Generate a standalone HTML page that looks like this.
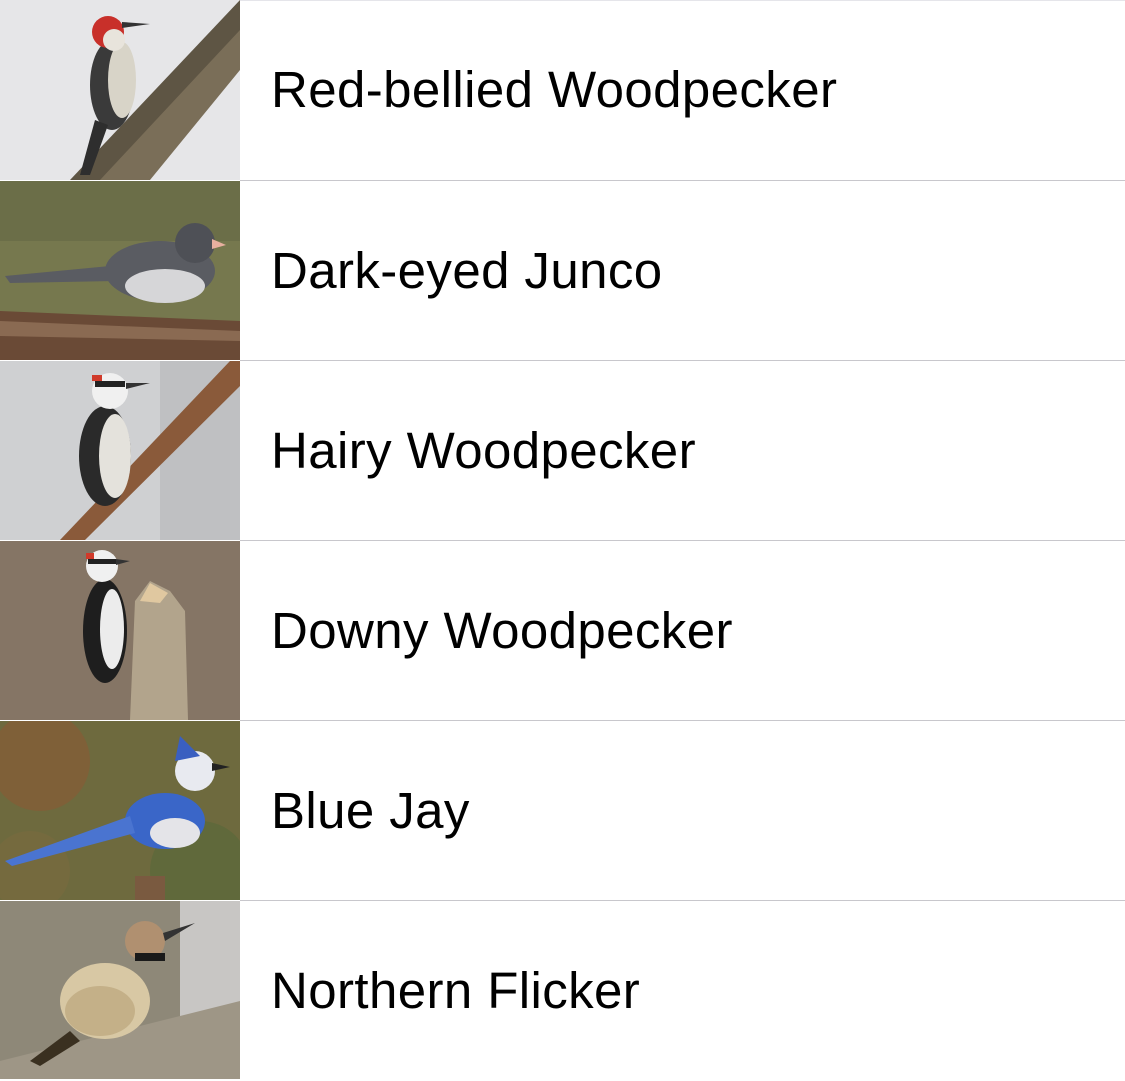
<!DOCTYPE html>
<html><head><meta charset="utf-8"><style>
html,body{margin:0;padding:0;background:#fff;width:1125px;height:1079px;overflow:hidden;font-family:"Liberation Sans",sans-serif}
.row{position:absolute;left:0;width:1125px;height:180px}
.row svg{position:absolute;left:0;top:0}
.row .t{position:absolute;left:271px;top:0;height:180px;line-height:180px;font-size:51px;color:#000;letter-spacing:0.4px}
.sep{position:absolute;left:240px;right:0;height:1px;background:#c8c7cc}
</style></head><body>
<div class="sep" style="top:0;background:#e5e5ea"></div>

<div class="row" style="top:0">
<svg width="240" height="180">
<rect width="240" height="180" fill="#e6e6e8"/>
<polygon points="70,180 240,0 240,40 120,180" fill="#5e5544"/>
<polygon points="100,180 240,30 240,70 150,180" fill="#7a6e58"/>
<ellipse cx="112" cy="85" rx="22" ry="45" fill="#3a3a3a"/>
<ellipse cx="122" cy="80" rx="14" ry="38" fill="#d8d4c8"/>
<circle cx="108" cy="32" r="16" fill="#c8302a"/>
<circle cx="114" cy="40" r="11" fill="#e8e4dc"/>
<polygon points="122,22 150,24 122,28" fill="#333"/>
<polygon points="95,120 80,175 90,175 108,125" fill="#2e2e2e"/>
</svg>
<div class="t">Red-bellied Woodpecker</div></div>
<div class="sep" style="top:180px"></div>

<div class="row" style="top:181px">
<svg width="240" height="179">
<rect width="240" height="179" fill="#76784e"/>
<rect y="0" width="240" height="60" fill="#6b6e48"/>
<polygon points="0,130 240,140 240,179 0,179" fill="#6a4a36"/>
<polygon points="0,140 240,150 240,160 0,155" fill="#8a6a52"/>
<ellipse cx="160" cy="90" rx="55" ry="30" fill="#5a5c62"/>
<ellipse cx="165" cy="105" rx="40" ry="17" fill="#d6d6d8"/>
<circle cx="195" cy="62" r="20" fill="#4e5056"/>
<polygon points="212,58 226,64 212,68" fill="#e8b0a0"/>
<polygon points="110,85 5,95 10,102 115,100" fill="#5a5c62"/>
</svg>
<div class="t">Dark-eyed Junco</div></div>
<div class="sep" style="top:360px"></div>

<div class="row" style="top:361px">
<svg width="240" height="179">
<rect width="240" height="179" fill="#cfd0d2"/>
<rect x="160" width="80" height="179" fill="#bfc0c2"/>
<polygon points="60,179 230,0 240,0 240,25 85,179" fill="#8a5a3a"/>
<ellipse cx="105" cy="95" rx="26" ry="50" fill="#2a2a2a"/>
<ellipse cx="115" cy="95" rx="16" ry="42" fill="#e4e2dc"/>
<circle cx="110" cy="30" r="18" fill="#f0f0f0"/>
<rect x="95" y="20" width="30" height="6" fill="#222"/>
<rect x="92" y="14" width="10" height="6" fill="#d03a2a"/>
<polygon points="126,22 150,22 126,28" fill="#333"/>
</svg>
<div class="t">Hairy Woodpecker</div></div>
<div class="sep" style="top:540px"></div>

<div class="row" style="top:541px">
<svg width="240" height="179">
<rect width="240" height="179" fill="#857565"/>
<polygon points="130,179 135,60 150,40 170,50 185,70 188,179" fill="#b2a48c"/>
<polygon points="140,60 150,42 168,52 160,62" fill="#e0c8a0"/>
<ellipse cx="105" cy="90" rx="22" ry="52" fill="#1e1e1e"/>
<ellipse cx="112" cy="88" rx="12" ry="40" fill="#ececec"/>
<circle cx="102" cy="25" r="16" fill="#f0f0f0"/>
<rect x="88" y="18" width="28" height="5" fill="#222"/>
<rect x="86" y="12" width="8" height="6" fill="#d03a2a"/>
<polygon points="116,18 130,20 116,24" fill="#333"/>
</svg>
<div class="t">Downy Woodpecker</div></div>
<div class="sep" style="top:720px"></div>

<div class="row" style="top:721px">
<svg width="240" height="179">
<rect width="240" height="179" fill="#6e6a3e"/>
<circle cx="40" cy="40" r="50" fill="#8a5a36" opacity="0.6"/>
<circle cx="200" cy="150" r="50" fill="#5a6a3a" opacity="0.7"/>
<circle cx="30" cy="150" r="40" fill="#7a6a40" opacity="0.6"/>
<ellipse cx="165" cy="100" rx="40" ry="28" fill="#3a66c8"/>
<ellipse cx="175" cy="112" rx="25" ry="15" fill="#e4e4e8"/>
<polygon points="130,95 5,140 12,145 135,112" fill="#4a74d0"/>
<circle cx="195" cy="50" r="20" fill="#e8eaf0"/>
<polygon points="175,40 180,15 200,35" fill="#3a5fc0"/>
<polygon points="212,42 230,46 212,50" fill="#222"/>
<rect x="135" y="155" width="30" height="24" fill="#7a5a40"/>
</svg>
<div class="t">Blue Jay</div></div>
<div class="sep" style="top:900px"></div>

<div class="row" style="top:901px">
<svg width="240" height="178">
<rect width="240" height="178" fill="#8e8878"/>
<rect x="180" width="60" height="120" fill="#c8c6c4"/>
<polygon points="0,160 240,100 240,178 0,178" fill="#9e9686"/>
<ellipse cx="105" cy="100" rx="45" ry="38" fill="#d8c8a4"/>
<ellipse cx="100" cy="110" rx="35" ry="25" fill="#c4b088"/>
<circle cx="145" cy="40" r="20" fill="#b09070"/>
<rect x="135" y="52" width="30" height="8" fill="#1a1a1a"/>
<polygon points="163,32 195,22 165,40" fill="#333"/>
<polygon points="70,130 30,160 40,165 80,140" fill="#3a3020"/>
</svg>
<div class="t">Northern Flicker</div></div>
</body></html>
